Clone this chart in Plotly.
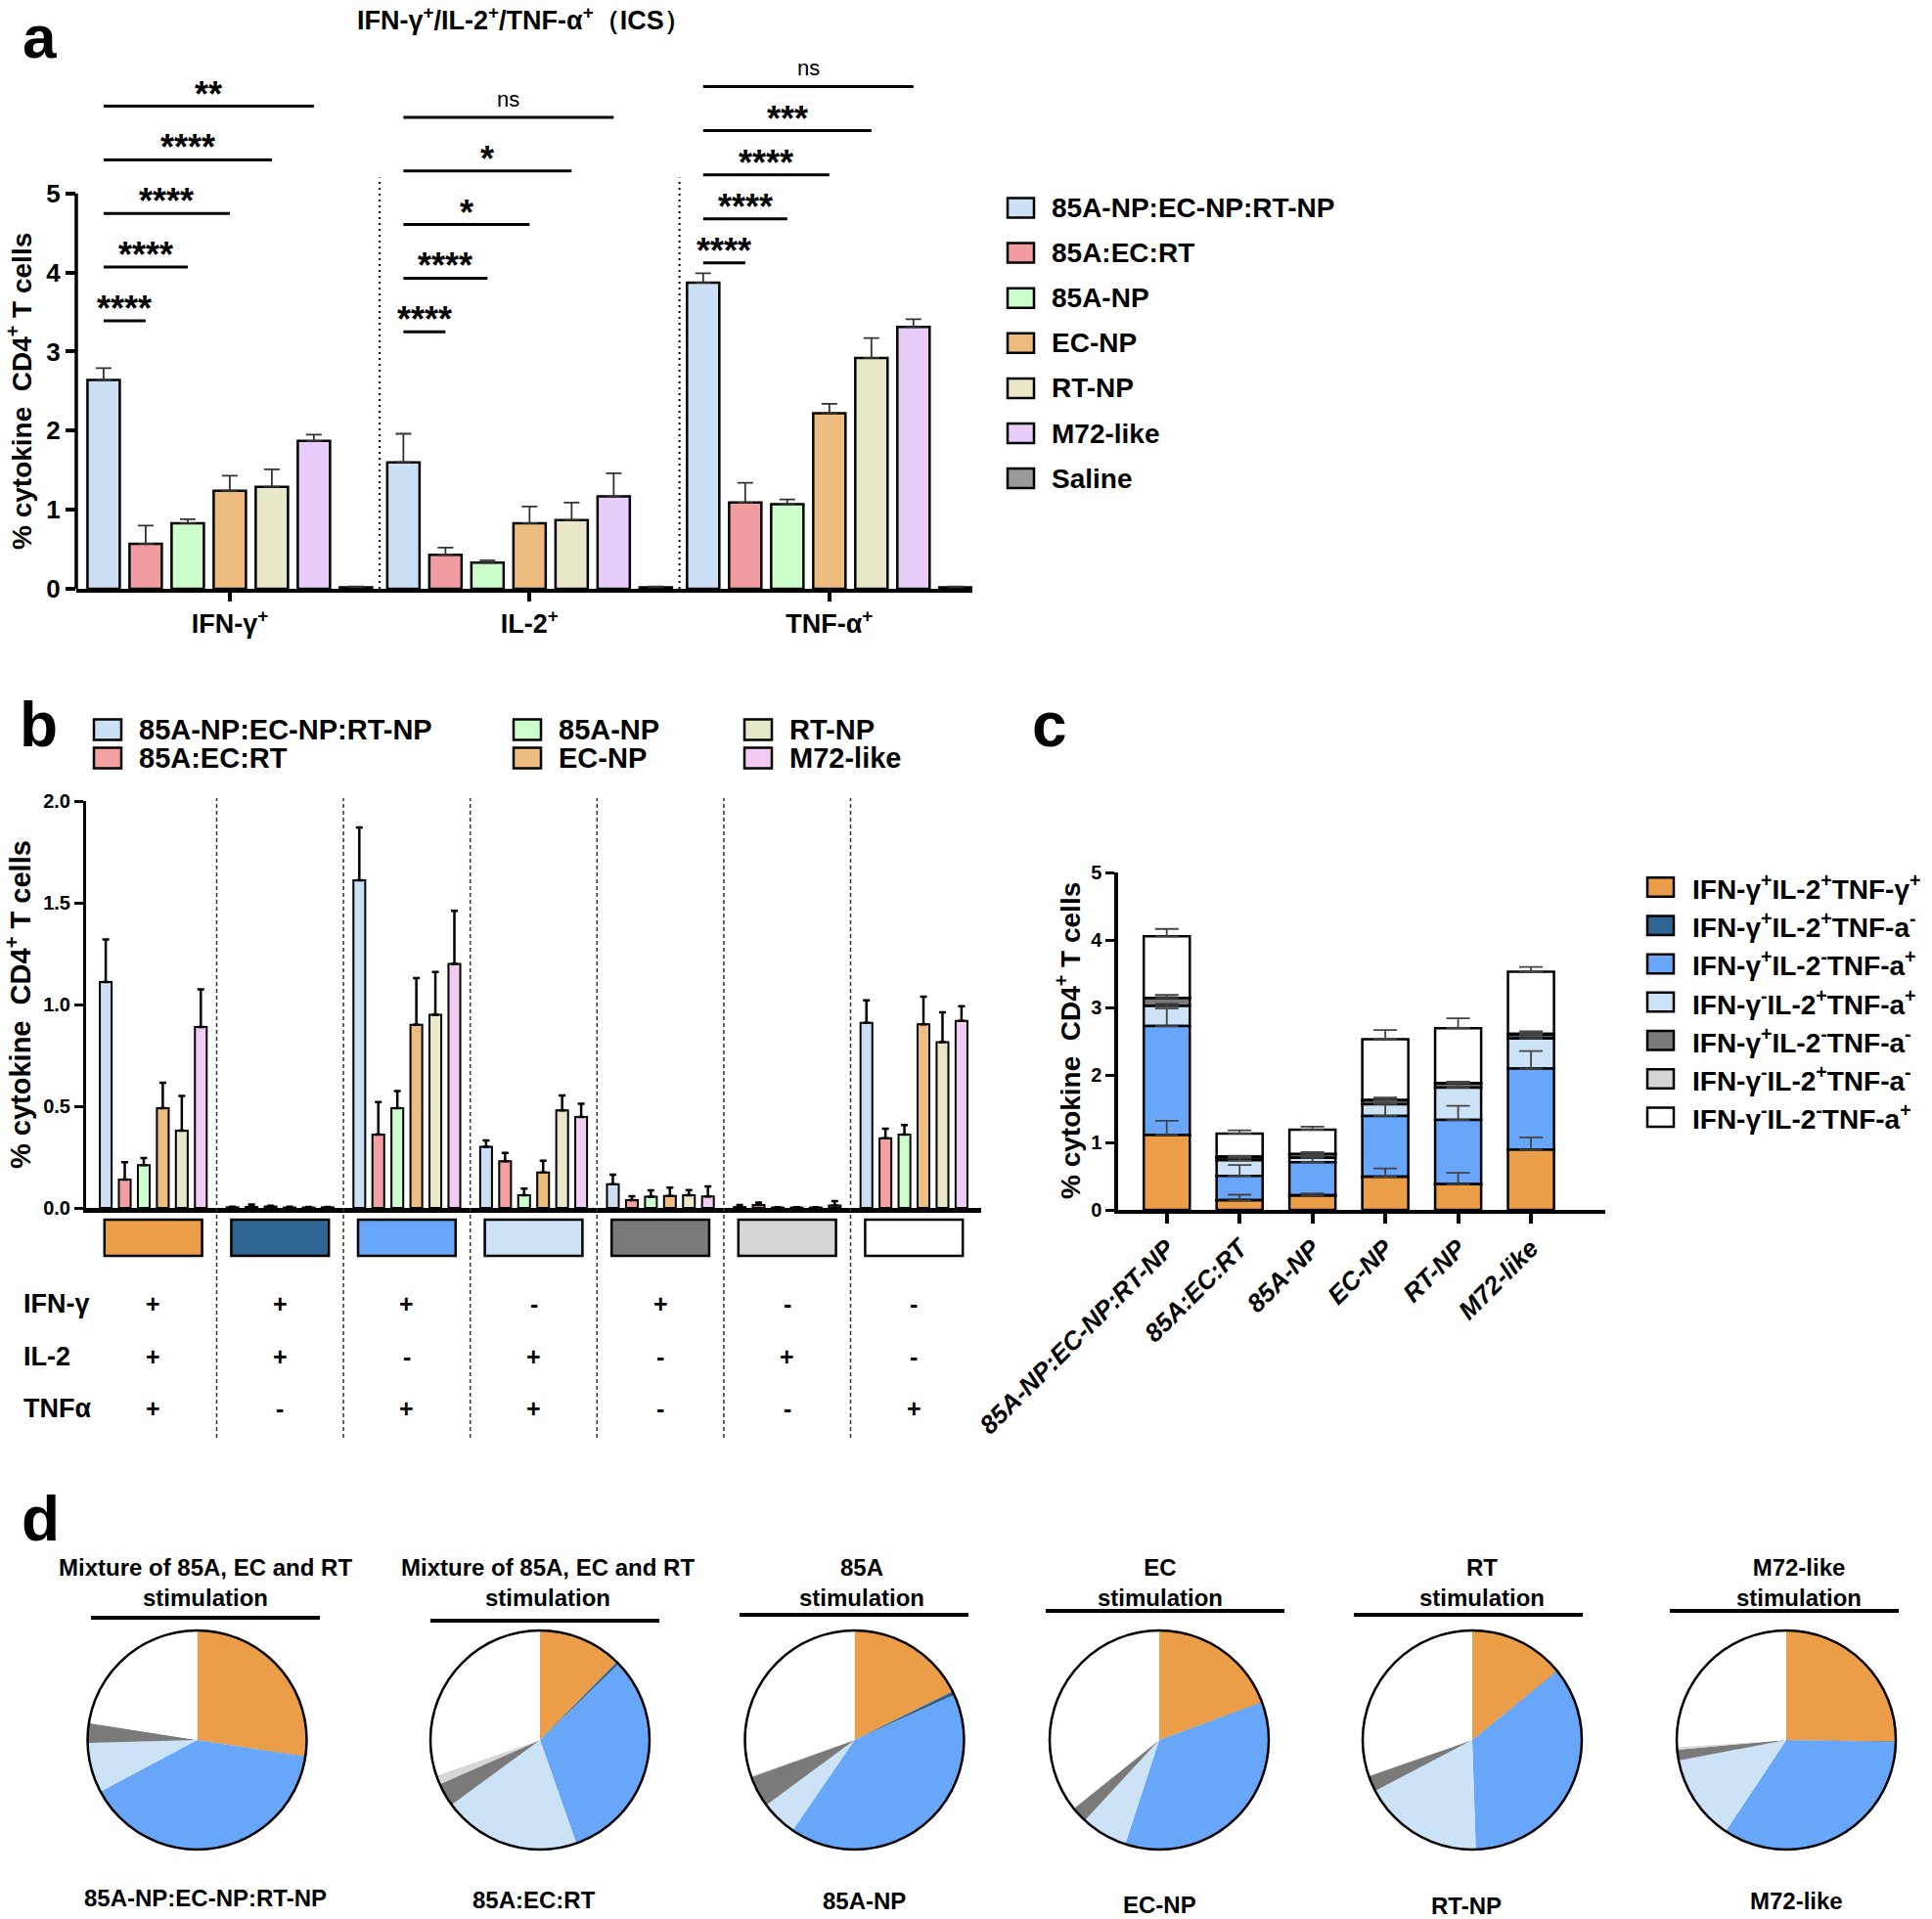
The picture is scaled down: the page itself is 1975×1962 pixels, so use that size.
import plotly.graph_objects as go

W, H = 1975, 1962
FONT = "Liberation Sans, Arial, Helvetica, sans-serif"

# ---------------- data: panel a ----------------
A_CATEGORIES = ["IFN-γ<sup>+</sup>", "IL-2<sup>+</sup>", "TNF-α<sup>+</sup>"]
A_GROUPS = ["85A-NP:EC-NP:RT-NP", "85A:EC:RT", "85A-NP", "EC-NP", "RT-NP", "M72-like", "Saline"]
A_IFN = [2.64, 0.57, 0.83, 1.24, 1.29, 1.87, 0.02]
A_IFN_ERR = [0.15, 0.23, 0.05, 0.19, 0.22, 0.08, 0.01]
A_IL2 = [1.60, 0.43, 0.33, 0.83, 0.87, 1.17, 0.02]
A_IL2_ERR = [0.36, 0.09, 0.03, 0.21, 0.22, 0.29, 0.01]
A_TNF = [3.87, 1.09, 1.07, 2.22, 2.92, 3.31, 0.02]
A_TNF_ERR = [0.12, 0.25, 0.06, 0.12, 0.25, 0.10, 0.01]
A_SIG_IFN = ["****", "****", "****", "****", "**"]
A_SIG_IL2 = ["****", "****", "*", "*", "ns"]
A_SIG_TNF = ["****", "****", "****", "***", "ns"]

# ---------------- data: panels b, c, d ----------------
VACCINES = ["85A-NP:EC-NP:RT-NP", "85A:EC:RT", "85A-NP", "EC-NP", "RT-NP", "M72-like"]
COMBOS = ["IFN+IL2+TNF+", "IFN+IL2+TNF-", "IFN+IL2-TNF+", "IFN-IL2+TNF+",
          "IFN+IL2-TNF-", "IFN-IL2+TNF-", "IFN-IL2-TNF+"]
COMBO_LABELS = [
    "IFN-γ<sup>+</sup>IL-2<sup>+</sup>TNF-γ<sup>+</sup>",
    "IFN-γ<sup>+</sup>IL-2<sup>+</sup>TNF-a<sup>-</sup>",
    "IFN-γ<sup>+</sup>IL-2<sup>-</sup>TNF-a<sup>+</sup>",
    "IFN-γ<sup>-</sup>IL-2<sup>+</sup>TNF-a<sup>+</sup>",
    "IFN-γ<sup>+</sup>IL-2<sup>-</sup>TNF-a<sup>-</sup>",
    "IFN-γ<sup>-</sup>IL-2<sup>+</sup>TNF-a<sup>-</sup>",
    "IFN-γ<sup>-</sup>IL-2<sup>-</sup>TNF-a<sup>+</sup>",
]
B_PPP = [1.11, 0.14, 0.21, 0.49, 0.38, 0.89]
B_PPP_ERR = [0.21, 0.085, 0.035, 0.125, 0.17, 0.185]
B_PPN = [0.003, 0.005, 0.007, 0.002, 0.002, 0.003]
B_PPN_ERR = [0.003, 0.012, 0.004, 0.004, 0.003, 0.002]
B_PNP = [1.61, 0.36, 0.49, 0.90, 0.95, 1.20]
B_PNP_ERR = [0.26, 0.16, 0.085, 0.23, 0.21, 0.26]
B_NPP = [0.30, 0.23, 0.063, 0.174, 0.48, 0.447]
B_NPP_ERR = [0.032, 0.041, 0.032, 0.058, 0.073, 0.065]
B_PNN = [0.116, 0.039, 0.055, 0.059, 0.063, 0.056]
B_PNN_ERR = [0.048, 0.019, 0.032, 0.041, 0.025, 0.05]
B_NPN = [0.004, 0.015, 0.002, 0.002, 0.002, 0.012]
B_NPN_ERR = [0.010, 0.012, 0.002, 0.002, 0.002, 0.022]
B_NNP = [0.91, 0.343, 0.36, 0.903, 0.815, 0.92]
B_NNP_ERR = [0.11, 0.047, 0.047, 0.135, 0.147, 0.072]
SIGN_IFN = ["+", "+", "+", "-", "+", "-", "-"]
SIGN_IL2 = ["+", "+", "-", "+", "-", "+", "-"]
SIGN_TNF = ["+", "-", "+", "+", "-", "-", "+"]
PIE_STIM = ["Mixture of 85A, EC and RT", "Mixture of 85A, EC and RT", "85A", "EC", "RT", "M72-like"]

# ---------------- styles ----------------
A_COLORS = ["#CCE0F5", "#F19C9E", "#CCFFCC", "#EDBB7E", "#E8E8C8", "#E8CCF9", "#9A9A9A"]
B_COLORS = ["#CCE0F5", "#F4A0A0", "#CCFFCC", "#EEBE80", "#E8E8C8", "#F3CCF3"]
COMBO_COLORS = ["#EC9D48", "#2F6593", "#67A6F8", "#CCE2F7", "#7A7A7A", "#D6D6D6", "#FFFFFF"]

B_MATRIX = [B_PPP, B_PPN, B_PNP, B_NPP, B_PNN, B_NPN, B_NNP]
B_ERRORS = [B_PPP_ERR, B_PPN_ERR, B_PNP_ERR, B_NPP_ERR, B_PNN_ERR, B_NPN_ERR, B_NNP_ERR]


def fx(p):
    return p / W


def fy(p):
    return 1 - p / H


fig = go.Figure()
shapes = []
ann = []


def text(x, y, s, size, bold=True, xanchor="center", yanchor="middle", xref="paper", yref="paper",
         angle=0, style="normal", yshift=0):
    ann.append(dict(x=x, y=y, xref=xref, yref=yref, text=s, showarrow=False,
                    font=dict(family=FONT, size=size, color="black",
                              weight="bold" if bold else "normal", style=style),
                    xanchor=xanchor, yanchor=yanchor, textangle=angle, yshift=yshift))


def legend_item(x0, yc, w, h, color, label, size, tx):
    shapes.append(dict(type="rect", xref="paper", yref="paper", x0=fx(x0), x1=fx(x0 + w),
                       y0=fy(yc + h / 2), y1=fy(yc - h / 2), fillcolor=color,
                       line=dict(color="black", width=2.5)))
    text(fx(tx), fy(yc), label, size, xanchor="left")


# ================= panel a =================
SLOT_A = 0.1403
BW_A = 0.1077
GW_A = SLOT_A * len(A_GROUPS)
A_VALUES = [A_IFN, A_IL2, A_TNF]
A_ERRS = [A_IFN_ERR, A_IL2_ERR, A_TNF_ERR]
for i, g in enumerate(A_GROUPS):
    fig.add_trace(go.Bar(
        x=A_CATEGORIES, y=[v[i] for v in A_VALUES], name=g, showlegend=False,
        error_y=dict(type="data", symmetric=False, array=[e[i] for e in A_ERRS],
                     arrayminus=[0, 0, 0], color="#333333", thickness=1.8, width=8),
        width=BW_A, offset=-GW_A / 2 + SLOT_A * i + (SLOT_A - BW_A) / 2,
        marker=dict(color=A_COLORS[i], line=dict(color="black", width=2.5)),
        xaxis="x", yaxis="y"))


def a_center(cat, i):
    return cat + (-GW_A / 2 + SLOT_A * (i + 0.5))


SIG_BASE = [3.39, 3.25, 4.12]
SIG_STEP = [0.678, 0.678, 0.558]
for c, sigs in enumerate([A_SIG_IFN, A_SIG_IL2, A_SIG_TNF]):
    for k, lab in enumerate(sigs):
        yv = SIG_BASE[c] + SIG_STEP[c] * k
        x0, x1 = a_center(c, 0), a_center(c, k + 1)
        shapes.append(dict(type="line", xref="x", yref="y", x0=x0, x1=x1, y0=yv, y1=yv,
                           line=dict(color="black", width=3)))
        if lab == "ns":
            text((x0 + x1) / 2, yv, lab, 22, bold=False, xref="x", yref="y", yanchor="bottom", yshift=4)
        else:
            text((x0 + x1) / 2, yv, lab, 36, xref="x", yref="y", yanchor="bottom", yshift=-10)

for sep in [0.5, 1.5]:
    shapes.append(dict(type="line", xref="x", yref="y", x0=sep, x1=sep, y0=0, y1=5.2,
                       line=dict(color="black", width=2, dash="2px,4px")))
shapes.append(dict(type="line", xref="x domain", yref="y", x0=0, x1=0, y0=-0.02, y1=5,
                   line=dict(color="black", width=3.5)))

text(fx(535), fy(19), "IFN-γ<sup>+</sup>/IL-2<sup>+</sup>/TNF-α<sup>+</sup>（ICS）", 27)
text(fx(20), fy(400), "% cytokine  CD4<sup>+</sup> T cells", 28, angle=-90)
text(fx(40), fy(0), "a", 62, yanchor="top", yshift=-1)

for i, g in enumerate(A_GROUPS):
    legend_item(1030, 212.5 + 46.1 * i, 27, 20, A_COLORS[i], g, 28, 1073)

# ================= panel b =================
SLOT_B = 0.15
BW_B = 0.093
GW_B = SLOT_B * len(VACCINES)
for j, v in enumerate(VACCINES):
    fig.add_trace(go.Bar(
        x=COMBOS, y=[row[j] for row in B_MATRIX], name=v, showlegend=False,
        error_y=dict(type="data", symmetric=False, array=[row[j] for row in B_ERRORS],
                     arrayminus=[0] * len(COMBOS), color="black", thickness=2.5, width=3.5),
        width=BW_B, offset=-GW_B / 2 + SLOT_B * j + (SLOT_B - BW_B) / 2,
        marker=dict(color=B_COLORS[j], line=dict(color="black", width=2)),
        xaxis="x2", yaxis="y2"))

for k in range(len(COMBOS) - 1):
    shapes.append(dict(type="line", xref="x2", yref="paper", x0=k + 0.5, x1=k + 0.5,
                       y0=fy(1470), y1=fy(816), line=dict(color="#333333", width=1.5, dash="4px,3px")))
for k, col in enumerate(COMBO_COLORS):
    shapes.append(dict(type="rect", xref="x2", yref="paper", x0=k - 0.385, x1=k + 0.385,
                       y0=fy(1284), y1=fy(1247), fillcolor=col, line=dict(color="black", width=2.5)))
ROW_Y = [1333, 1387, 1440]
for r, (lab, signs) in enumerate(zip(["IFN-γ", "IL-2", "TNFα"], [SIGN_IFN, SIGN_IL2, SIGN_TNF])):
    text(fx(22), fy(ROW_Y[r]), lab, 27, xanchor="left")
    for k, s in enumerate(signs):
        text(k, fy(ROW_Y[r]), s, 25, xref="x2")

text(fx(19), fy(1027), "% cytokine  CD4<sup>+</sup> T cells", 29, angle=-90)
text(fx(39), fy(741), "b", 64)
B_LEG_X = [96, 525, 761]
B_LEG_Y = [746, 775]
for j, v in enumerate(VACCINES):
    col, row = j // 2, j % 2
    legend_item(B_LEG_X[col], B_LEG_Y[row], 28, 21, B_COLORS[j], v, 29, B_LEG_X[col] + 44)

# ================= panel c =================
BW_C = 0.632
bases = [[0.0] * len(VACCINES)]
for row in B_MATRIX[:-1]:
    bases.append([b + v for b, v in zip(bases[-1], row)])
for k in reversed(range(len(COMBOS))):
    fig.add_trace(go.Bar(
        x=VACCINES, y=B_MATRIX[k], base=bases[k], name=COMBOS[k], showlegend=False,
        error_y=dict(type="data", symmetric=False, array=B_ERRORS[k], arrayminus=[0] * len(VACCINES),
                     color="#444444", thickness=1.8, width=12),
        width=BW_C, offset=-BW_C / 2,
        marker=dict(color=COMBO_COLORS[k], line=dict(color="black", width=2.5)),
        xaxis="x3", yaxis="y3"))

text(fx(1092), fy(1064), "% cytokine  CD4<sup>+</sup> T cells", 28, angle=-90)
text(fx(1073), fy(741), "c", 64)
for k, lab in enumerate(COMBO_LABELS):
    legend_item(1684, 907 + 39.2 * k, 27, 19.5, COMBO_COLORS[k], lab, 28, 1728)

# ================= panel d =================
PIE_CX = [201.5, 552, 873.5, 1185, 1505, 1826]
PIE_CY = 1779
PIE_R = 112
HEAD_X = [210, 560, 881, 1186, 1515, 1839]
LINE_X = [(93, 327, 1654), (440, 674, 1657), (756, 990, 1651), (1069, 1313, 1647),
          (1384, 1618, 1651), (1707, 1941, 1647)]
FOOT_X = [210, 546, 883, 1185, 1499, 1836]
FOOT_Y = [1940, 1942, 1943, 1947, 1948, 1943]
for j, v in enumerate(VACCINES):
    dom = dict(x=[fx(PIE_CX[j] - PIE_R), fx(PIE_CX[j] + PIE_R)],
               y=[fy(PIE_CY + PIE_R), fy(PIE_CY - PIE_R)])
    fig.add_trace(go.Pie(values=[row[j] for row in B_MATRIX], labels=COMBOS, sort=False,
                         direction="clockwise", rotation=0, textinfo="none", domain=dom,
                         marker=dict(colors=COMBO_COLORS, line=dict(width=0)),
                         showlegend=False, name=v))
    fig.add_trace(go.Pie(values=[1], labels=["outline"], sort=False, textinfo="none", domain=dom,
                         marker=dict(colors=["rgba(0,0,0,0)"], line=dict(color="black", width=2.5)),
                         showlegend=False, hoverinfo="skip"))
    text(fx(HEAD_X[j]), fy(1618), PIE_STIM[j] + "<br>stimulation", 24)
    x0, x1, yl = LINE_X[j]
    shapes.append(dict(type="line", xref="paper", yref="paper", x0=fx(x0), x1=fx(x1),
                       y0=fy(yl), y1=fy(yl), line=dict(color="black", width=4)))
    text(fx(FOOT_X[j]), fy(FOOT_Y[j]), v, 24)
text(fx(41), fy(1553), "d", 64)

# ================= layout =================
axis_common = dict(showgrid=False, zeroline=False, linecolor="black", tickcolor="black")
fig.update_layout(
    width=W, height=H, margin=dict(l=0, r=0, t=0, b=0, autoexpand=False),
    paper_bgcolor="white", plot_bgcolor="rgba(0,0,0,0)", barmode="overlay", showlegend=False,
    font=dict(family=FONT, color="black"),
    xaxis=dict(domain=[fx(78), fx(994)], anchor="y", type="category", range=[-0.512, 2.477],
               showline=True, linewidth=3.5, ticks="outside", ticklen=9, tickwidth=3.5,
               tickfont=dict(family=FONT, size=27, weight="bold"), **axis_common),
    yaxis=dict(domain=[fy(602), fy(36)], anchor="x", range=[0, 7.0], tickvals=[0, 1, 2, 3, 4, 5],
               showline=False, ticks="outside", ticklen=10, tickwidth=3.5,
               tickfont=dict(family=FONT, size=26, weight="bold"), **axis_common),
    xaxis2=dict(domain=[fx(88), fx(1003)], anchor="y2", type="category", range=[-0.53, 6.53],
                showline=True, linewidth=4.5, showticklabels=False, ticks="", **axis_common),
    yaxis2=dict(domain=[fy(1235), fy(819)], anchor="x2", range=[0, 2.0],
                tickvals=[0, 0.5, 1.0, 1.5, 2.0], tickformat=".1f", showline=True, linewidth=3,
                ticks="outside", ticklen=9, tickwidth=3,
                tickfont=dict(family=FONT, size=20, weight="bold"), **axis_common),
    xaxis3=dict(domain=[fx(1143), fx(1641)], anchor="y3", type="category", range=[-0.668, 6.02],
                showline=True, linewidth=3.5, ticks="outside", ticklen=10, tickwidth=3.5,
                tickangle=-45, tickfont=dict(family=FONT, size=26, weight="bold", style="italic"),
                **axis_common),
    yaxis3=dict(domain=[fy(1237), fy(892)], anchor="x3", range=[0, 5], tickvals=[0, 1, 2, 3, 4, 5],
                showline=True, linewidth=3.5, ticks="outside", ticklen=9, tickwidth=3,
                tickfont=dict(family=FONT, size=20, weight="bold"), **axis_common),
    shapes=shapes, annotations=ann,
)

fig.write_html("out.html", config={"displayModeBar": False},
               post_script="document.body.style.margin='0px';")
